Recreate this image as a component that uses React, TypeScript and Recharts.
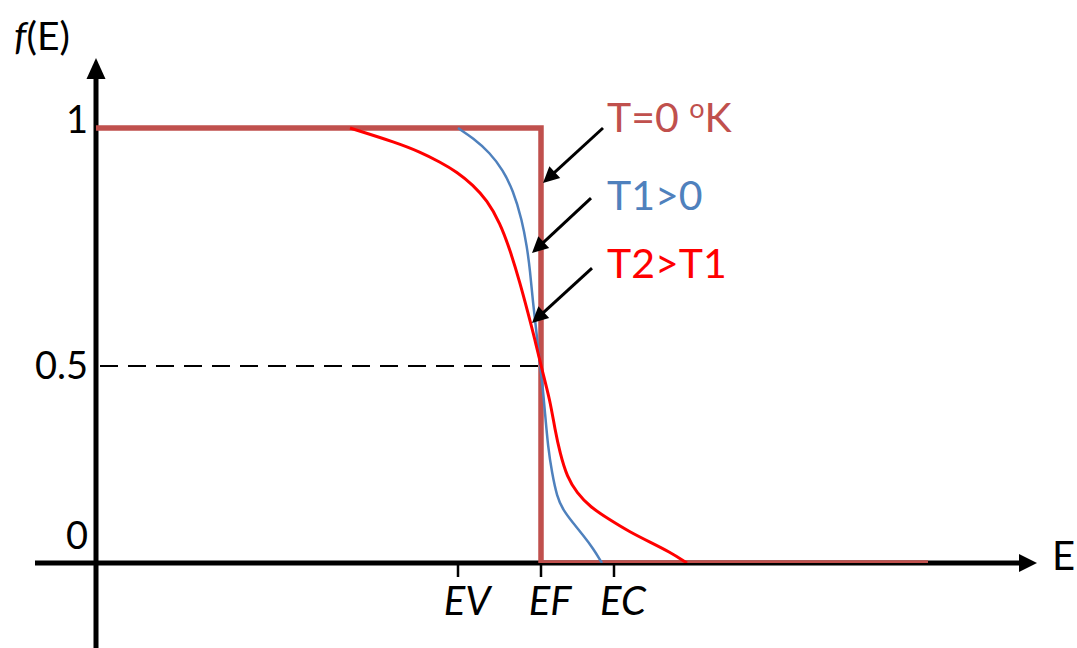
import React from 'react';
import { ComposedChart, Line, XAxis, YAxis, ReferenceLine, ReferenceDot } from 'recharts';

// Energy axis: EF = 0
const energyTicks = [-0.83, 0, 0.73];
const energyTickLabels = ['EV', 'EF', 'EC'];
// Occupancy axis (schematic spacing as drawn)
const occupancyTicks = [0, 0.453, 1];
const occupancyTickLabels = ['0', '0.5', '1'];

const t0Curve = [
  { e: -4.45, f: 1 },
  { e: 0, f: 1 },
  { e: 0, f: 0 },
  { e: 3.87, f: 0 },
];

const t1Curve = [
  { e: -0.83, f: 1.0 },
  { e: -0.68, f: 0.977 },
  { e: -0.51, f: 0.943 },
  { e: -0.38, f: 0.903 },
  { e: -0.28, f: 0.857 },
  { e: -0.19, f: 0.789 },
  { e: -0.14, f: 0.726 },
  { e: -0.11, f: 0.674 },
  { e: -0.08, f: 0.598 },
  { e: -0.04, f: 0.52 },
  { e: -0.01, f: 0.455 },
  { e: 0.017, f: 0.405 },
  { e: 0.04, f: 0.345 },
  { e: 0.07, f: 0.267 },
  { e: 0.11, f: 0.207 },
  { e: 0.16, f: 0.152 },
  { e: 0.22, f: 0.122 },
  { e: 0.32, f: 0.092 },
  { e: 0.42, f: 0.064 },
  { e: 0.52, f: 0.034 },
  { e: 0.61, f: 0.0 },
];

const t2Curve = [
  { e: -1.91, f: 1.0 },
  { e: -1.44, f: 0.966 },
  { e: -1.21, f: 0.945 },
  { e: -1.01, f: 0.922 },
  { e: -0.84, f: 0.899 },
  { e: -0.68, f: 0.869 },
  { e: -0.54, f: 0.834 },
  { e: -0.41, f: 0.782 },
  { e: -0.31, f: 0.72 },
  { e: -0.21, f: 0.644 },
  { e: -0.13, f: 0.575 },
  { e: -0.06, f: 0.513 },
  { e: 0.0, f: 0.453 },
  { e: 0.09, f: 0.375 },
  { e: 0.14, f: 0.306 },
  { e: 0.19, f: 0.253 },
  { e: 0.26, f: 0.198 },
  { e: 0.36, f: 0.161 },
  { e: 0.49, f: 0.129 },
  { e: 0.69, f: 0.099 },
  { e: 0.89, f: 0.071 },
  { e: 1.09, f: 0.048 },
  { e: 1.29, f: 0.025 },
  { e: 1.46, f: 0.0 },
];

const seriesLabels = ['T=0 ', 'T1>0', 'T2>T1'];

const COLOR_T0 = '#C0504D';
const COLOR_T1 = '#4F81BD';
const COLOR_T2 = '#FF0000';
const FONT = 'Lato, "Open Sans", sans-serif';

type ArrowCfg = { head: number; half: number; width: number };

const makeArrow = (cfg: ArrowCfg) => (props: any) => {
  const { x1, y1, x2, y2 } = props;
  const dx = x2 - x1;
  const dy = y2 - y1;
  const len = Math.sqrt(dx * dx + dy * dy) || 1;
  const ux = dx / len;
  const uy = dy / len;
  const bx = x2 - ux * cfg.head;
  const by = y2 - uy * cfg.head;
  const px = -uy * cfg.half;
  const py = ux * cfg.half;
  return (
    <g>
      <line x1={x1} y1={y1} x2={bx + ux * 1} y2={by + uy * 1} stroke="#000" strokeWidth={cfg.width} />
      <polygon points={`${x2},${y2} ${bx + px},${by + py} ${bx - px},${by - py}`} fill="#000" />
    </g>
  );
};

const axisArrowY = makeArrow({ head: 21, half: 9.5, width: 5 });
const axisArrowX = makeArrow({ head: 18, half: 9, width: 5 });
const noteArrow = makeArrow({ head: 16, half: 8, width: 3 });

const YTick = (props: any) => {
  const { x, y, payload } = props;
  const idx = occupancyTicks.indexOf(payload.value);
  const label = occupancyTickLabels[idx];
  const shift = label === '0' ? -27 : label === '1' ? -8 : 0;
  return (
    <text x={x} y={y + shift} dy={13} textAnchor="end" fontFamily={FONT} fontSize={38} fill="#000">
      {label}
    </text>
  );
};

const XTick = (props: any) => {
  const { x, y, payload } = props;
  const idx = energyTicks.indexOf(payload.value);
  return (
    <text x={x + 9} y={y} dy={38} textAnchor="middle" fontFamily={FONT} fontSize={40} fontStyle="italic" fill="#000">
      {energyTickLabels[idx]}
    </text>
  );
};

const YTitle = (props: any) => {
  const vb = props.viewBox || { x: 0, y: 0 };
  return (
    <text x={vb.x + 14} y={vb.y + 50} fontFamily={FONT} fontSize={39} fill="#000">
      <tspan fontStyle="italic">f</tspan>
      <tspan>(E)</tspan>
    </text>
  );
};

const XTitle = (props: any) => {
  const vb = props.viewBox || { x: 0, y: 0, width: 0 };
  return (
    <text x={vb.x + vb.width - 2} y={vb.y + 7} textAnchor="end" fontFamily={FONT} fontSize={40} fill="#000">
      E
    </text>
  );
};

const makeNote = (idx: number, color: string) => (props: any) => {
  const { cx, cy } = props;
  if (idx === 0) {
    return (
      <text x={cx} y={cy} fontFamily={FONT} fontSize={41} fill={color}>
        <tspan>{seriesLabels[0]}</tspan>
        <tspan fontSize={27} dy={-14}>o</tspan>
        <tspan fontSize={41} dy={14}>K</tspan>
      </text>
    );
  }
  return (
    <text x={cx} y={cy} fontFamily={FONT} fontSize={41} fill={color}>
      {seriesLabels[idx]}
    </text>
  );
};

export default function App() {
  return (
    <div style={{ position: 'absolute', left: 0, top: 0, width: 1077, height: 648, background: '#fff' }}>
      <ComposedChart width={1077} height={648} margin={{ top: 0, right: 0, bottom: 0, left: 0 }}>
        <XAxis
          type="number"
          dataKey="e"
          domain={[-4.45, 5.36]}
          ticks={energyTicks}
          tick={<XTick />}
          tickSize={14}
          tickMargin={0}
          axisLine={false}
          tickLine={{ stroke: '#000', strokeWidth: 2.5 }}
          height={85}
          allowDataOverflow
          label={{ content: <XTitle /> }}
        />
        <YAxis
          type="number"
          dataKey="f"
          domain={[0, 1.2943]}
          ticks={occupancyTicks}
          tick={<YTick />}
          tickSize={0}
          tickMargin={8}
          axisLine={false}
          tickLine={false}
          width={96}
          allowDataOverflow
          label={{ content: <YTitle /> }}
        />
        <ReferenceLine
          segment={[{ x: -4.45, y: -0.1954 }, { x: -4.45, y: 1.161 }]}
          ifOverflow="visible"
          shape={axisArrowY}
        />
        <ReferenceLine
          segment={[{ x: -5.06, y: 0 }, { x: 4.96, y: 0 }]}
          ifOverflow="visible"
          shape={axisArrowX}
        />
        <ReferenceLine
          segment={[{ x: -4.41, y: 0.453 }, { x: 0, y: 0.453 }]}
          ifOverflow="visible"
          stroke="#000"
          strokeWidth={2}
          strokeDasharray="18 10"
        />
        <Line data={t0Curve} dataKey="f" type="linear" stroke={COLOR_T0} strokeWidth={5.5} dot={false} activeDot={false} isAnimationActive={false} />
        <Line data={t1Curve} dataKey="f" type="basis" stroke={COLOR_T1} strokeWidth={2.5} dot={false} activeDot={false} isAnimationActive={false} />
        <Line data={t2Curve} dataKey="f" type="basis" stroke={COLOR_T2} strokeWidth={3} dot={false} activeDot={false} isAnimationActive={false} />
        <ReferenceLine segment={[{ x: 0.62, y: 1.0 }, { x: 0.02, y: 0.8736 }]} ifOverflow="visible" shape={noteArrow} />
        <ReferenceLine segment={[{ x: 0.5, y: 0.839 }, { x: -0.09, y: 0.7126 }]} ifOverflow="visible" shape={noteArrow} />
        <ReferenceLine segment={[{ x: 0.51, y: 0.678 }, { x: -0.09, y: 0.5517 }]} ifOverflow="visible" shape={noteArrow} />
        <ReferenceDot x={0.66} y={0.991} r={0} ifOverflow="visible" shape={makeNote(0, COLOR_T0)} />
        <ReferenceDot x={0.66} y={0.8115} r={0} ifOverflow="visible" shape={makeNote(1, COLOR_T1)} />
        <ReferenceDot x={0.66} y={0.655} r={0} ifOverflow="visible" shape={makeNote(2, COLOR_T2)} />
      </ComposedChart>
    </div>
  );
}
